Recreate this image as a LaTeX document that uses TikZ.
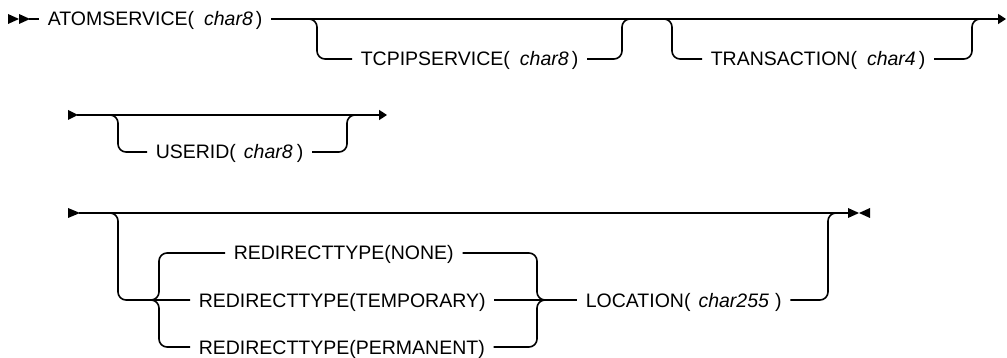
\documentclass[tikz,border=0pt]{standalone}
\usepackage{fontspec}
\setmainfont{Liberation Sans}
\usetikzlibrary{arrows.meta}
\newcommand{\argt}[1]{\hspace{10pt}\textit{#1}\hspace{3pt}}
\begin{document}
\begin{tikzpicture}[x=1pt,y=-1pt,line width=1.6pt,
  lbl/.style={anchor=west,inner xsep=8pt,inner ysep=0pt,text height=14pt,text depth=0pt,
    font=\fontsize{19.5}{23}\selectfont},
  br/.style={rounded corners=8pt},
  endarrow/.style={-{Triangle[length=8pt,width=10pt]}},
  tri/.style={fill=black,draw=none}]
\useasboundingbox (0,0) rectangle (1007,358);
% ---------- row 1 ----------
\fill[tri] (8,14) -- (19,19) -- (8,24) -- cycle;
\fill[tri] (19,14) -- (30,19) -- (19,24) -- cycle;
\coordinate (s1) at (29,19);
\node[lbl] (atom) at (39,19) {ATOMSERVICE(\argt{char8})};
\coordinate (e1) at (1006,19);
\draw (s1) -- (atom);
\draw[endarrow] (atom) -- (e1);
\node[lbl] (tcp) at (352,59) {TCPIPSERVICE(\argt{char8})};
\coordinate (a1) at (309,19); \coordinate (a2) at (317,19);
\coordinate (a3) at (622,19); \coordinate (a4) at (630,19);
\draw[br] (a1) -- (a2) |- (tcp);
\draw[br] (tcp) -| (a3) -- (a4);
\node[lbl] (trn) at (702,59) {TRANSACTION(\argt{char4})};
\coordinate (b1) at (664,19); \coordinate (b2) at (672,19);
\coordinate (b3) at (972,19); \coordinate (b4) at (980,19);
\draw[br] (b1) -- (b2) |- (trn);
\draw[br] (trn) -| (b3) -- (b4);
% ---------- row 2 ----------
\fill[tri] (68,110) -- (78,115) -- (68,120) -- cycle;
\coordinate (s2) at (77,115);
\coordinate (e2) at (387,115);
\draw[endarrow] (s2) -- (e2);
\node[lbl] (usr) at (147,152) {USERID(\hspace{8pt}\textit{char8}\hspace{4pt})};
\coordinate (c1) at (110,115); \coordinate (c2) at (118,115);
\coordinate (c3) at (347,115); \coordinate (c4) at (355,115);
\draw[br] (c1) -- (c2) |- (usr);
\draw[br] (usr) -| (c3) -- (c4);
% ---------- row 3 ----------
\fill[tri] (68,208) -- (80,213) -- (68,218) -- cycle;
\fill[tri] (848,208) -- (859,213) -- (848,218) -- cycle;
\fill[tri] (870,208) -- (859,213) -- (870,218) -- cycle;
\coordinate (s3) at (79,213);
\coordinate (e3) at (849,213);
\draw (s3) -- (e3);
\node[lbl] (non) at (225,253) {REDIRECTTYPE(NONE)};
\node[lbl] (tmp) at (190,300) {REDIRECTTYPE(TEMPORARY)};
\node[lbl] (prm) at (190,347) {REDIRECTTYPE(PERMANENT)};
\node[lbl] (loc) at (577,300) {LOCATION(\hspace{8pt}\textit{char255}\hspace{6pt})};
\coordinate (d1) at (110,213); \coordinate (d2) at (118,213);
\draw[br] (d1) -- (d2) |- (tmp);
\coordinate (j0) at (151,300); \coordinate (j1) at (159,300);
\draw[br] (j0) -- (j1) |- (non);
\draw[br] (j0) -- (j1) |- (prm);
\coordinate (k1) at (537,300); \coordinate (k2) at (545,300);
\draw[br] (non) -| (k1) -- (k2);
\draw[br] (prm) -| (k1) -- (k2);
\draw (tmp) -- (loc);
\coordinate (m1) at (828,213); \coordinate (m2) at (836,213);
\draw[br] (loc) -| (m1) -- (m2);
\end{tikzpicture}
\end{document}
